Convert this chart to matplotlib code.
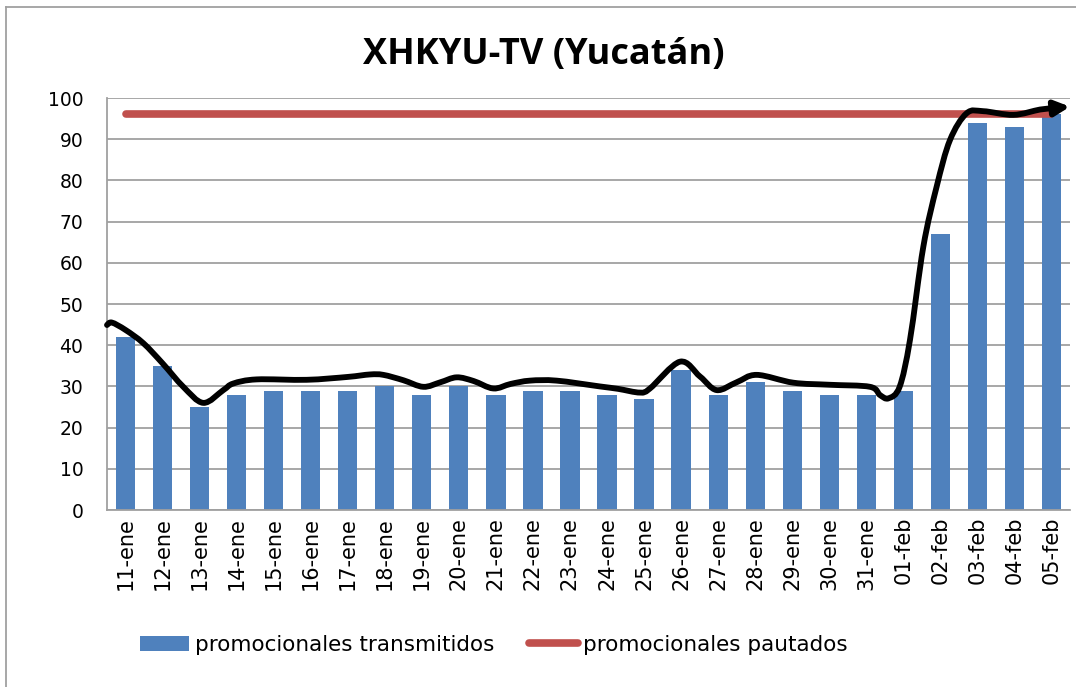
import matplotlib.pyplot as plt
from matplotlib.lines import Line2D
from matplotlib.patches import PathPatch
from matplotlib.path import Path

plt.rcParams['font.family'] = ['DejaVu Sans']

dias = ['11-ene', '12-ene', '13-ene', '14-ene', '15-ene', '16-ene', '17-ene',
        '18-ene', '19-ene', '20-ene', '21-ene', '22-ene', '23-ene', '24-ene',
        '25-ene', '26-ene', '27-ene', '28-ene', '29-ene', '30-ene', '31-ene',
        '01-feb', '02-feb', '03-feb', '04-feb', '05-feb']
transmitidos = [42, 35, 25, 28, 29, 29, 29, 30, 28, 30, 28, 29, 29, 28,
                27, 34, 28, 31, 29, 28, 28, 29, 67, 94, 93, 96]
pautados = [96] * len(dias)

# trazo a mano alzada sobre el grafico (posicion en indice de dia, valor)
trazo_x = [-0.5, -0.37, 0.0, 0.48, 1.0, 1.56, 2.1, 2.64, 2.91, 3.54, 4.89,
           6.0, 6.6, 6.96, 7.5, 8.04, 8.5, 8.94, 9.4, 9.93, 10.4, 10.92,
           11.64, 12.8, 13.3, 13.89, 14.16, 14.97, 15.51, 15.96, 16.5, 17.04,
           18.03, 19.0, 20.1, 20.37, 20.6, 20.9, 21.18, 21.54, 21.9, 22.26,
           22.71, 23.16, 23.97, 24.69, 25.05]
trazo_y = [44.9, 45.5, 43.7, 40.5, 35.6, 29.9, 26.0, 29.1, 30.7, 31.7, 31.6,
           32.3, 32.9, 32.8, 31.5, 29.9, 31.0, 32.2, 31.3, 29.5, 30.6, 31.4,
           31.4, 30.0, 29.4, 28.5, 29.5, 36.0, 32.4, 29.1, 31.0, 32.8,
           30.9, 30.4, 29.9, 27.9, 27.1, 29.9, 41.3, 63.9, 78.5, 89.8,
           96.3, 96.8, 95.9, 97.2, 97.5]
flecha_fin = (25.5, 97.9)

AZUL = '#4F81BD'
ROJO = '#C0504D'
GRIS = '#A0A0A0'


def trazo_suave(xs, ys):
    # curva Bezier que pasa por los puntos leidos (como una linea suavizada)
    pts = list(zip(xs, ys))
    verts = [pts[0]]
    codes = [Path.MOVETO]
    for i in range(len(pts) - 1):
        p0 = pts[max(i - 1, 0)]
        p1 = pts[i]
        p2 = pts[i + 1]
        p3 = pts[min(i + 2, len(pts) - 1)]
        c1 = (p1[0] + (p2[0] - p0[0]) / 6, p1[1] + (p2[1] - p0[1]) / 6)
        c2 = (p2[0] - (p3[0] - p1[0]) / 6, p2[1] - (p3[1] - p1[1]) / 6)
        verts += [c1, c2, p2]
        codes += [Path.CURVE4] * 3
    return Path(verts, codes)


fig = plt.figure(figsize=(10.76, 6.87), dpi=100)
ax = fig.add_axes([107 / 1076, 1 - 510 / 687, 963 / 1076, 412 / 687])

x = list(range(len(dias)))
barras = ax.bar(x, transmitidos, width=0.52, color=AZUL, zorder=2,
                label='promocionales transmitidos')
linea, = ax.plot(x, pautados, color=ROJO, lw=5.5, solid_capstyle='round',
                 zorder=3, label='promocionales pautados')

ax.add_patch(PathPatch(trazo_suave(trazo_x, trazo_y), facecolor='none',
                       edgecolor='black', lw=4.2, capstyle='round',
                       joinstyle='round', zorder=4, clip_on=False))
ax.annotate('', xy=flecha_fin, xytext=(trazo_x[-1], trazo_y[-1]),
            arrowprops=dict(arrowstyle='-|>', color='black', lw=4.2,
                            mutation_scale=22, shrinkA=0, shrinkB=0),
            annotation_clip=False, zorder=5)

ax.set_xlim(-0.5, len(dias) - 0.5)
ax.set_ylim(0, 100)
ax.set_yticks(range(0, 101, 10))
ax.set_xticks(x)
ax.set_xticklabels(dias, rotation=90, fontsize=15)
ax.tick_params(axis='y', length=0, pad=17, labelsize=13.5)
ax.tick_params(axis='x', length=0, pad=5)
ax.grid(axis='y', color=GRIS, lw=1.3, zorder=1)
ax.set_axisbelow(True)
for lado in ['top', 'right']:
    ax.spines[lado].set_visible(False)
for lado in ['left', 'bottom']:
    ax.spines[lado].set_color(GRIS)
    ax.spines[lado].set_linewidth(1.3)

fig.text(544 / 1076, 1 - 55 / 687, 'XHKYU-TV (Yucatán)', ha='center',
         va='center', fontsize=26, fontweight='bold',
         family=['Open Sans', 'DejaVu Sans'])

fig.legend([barras, linea], ['promocionales transmitidos', 'promocionales pautados'],
           loc='center', bbox_to_anchor=(494 / 1076, 1 - 645 / 687), ncol=2,
           frameon=False, fontsize=15.5, handlelength=2.3, handleheight=0.7,
           columnspacing=1.6, handletextpad=0.25)

# marco del area del grafico
fig.add_artist(Line2D([6 / 1076, 6 / 1076], [0, 1 - 7 / 687],
                      color=GRIS, lw=1.3, transform=fig.transFigure))
fig.add_artist(Line2D([6 / 1076, 1], [1 - 7 / 687, 1 - 7 / 687],
                      color=GRIS, lw=1.3, transform=fig.transFigure))

fig.savefig('out.png', dpi=100)
